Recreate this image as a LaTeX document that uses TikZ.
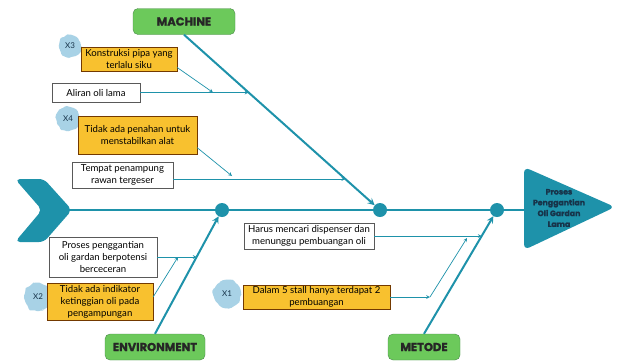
\documentclass[tikz,border=0pt]{standalone}
\usepackage{fontspec}
\setmainfont{Lato}
\newfontfamily\headfont{Poppins}[BoldFeatures={FakeBold=1.2}]
\usetikzlibrary{calc,decorations.pathmorphing}
\definecolor{fishteal}{HTML}{1E92AA}
\definecolor{bonegreen}{HTML}{6CC95B}
\definecolor{causegold}{HTML}{F8C12F}
\definecolor{tagblue}{HTML}{A8D2E6}
\definecolor{headtext}{HTML}{17344A}

\begin{document}
\begin{tikzpicture}[x=1pt,y=-1pt,>=stealth,font=\fontsize{9.6}{12}\selectfont,
    cat/.style={draw=green!35!black!70,fill=bonegreen,rounded corners=5pt,minimum height=26pt,font=\headfont\bfseries\fontsize{11.5}{13}\selectfont,text=black!85},
    wbox/.style={draw=black!65,fill=white,align=center,inner sep=1pt},
    ybox/.style={draw=black!55!orange,fill=causegold,align=center,inner sep=1pt},
    tag/.style={fill=tagblue,circle,minimum size=#1,inner sep=0pt,font=\fontsize{8}{9}\selectfont,text=headtext,decorate,decoration={random steps,segment length=3pt,amplitude=1.5pt},rounded corners=1.5pt},
    tag/.default=24pt,
    joint/.style={circle,fill=fishteal,minimum size=14pt,inner sep=0pt},
    bone/.style={fishteal,line width=2pt},
    twig/.style={fishteal,line width=0.7pt,->}]
    \path[use as bounding box,fill=white] (0,0) rectangle (620,360);
    \fill[fishteal,rounded corners=5pt] (15,179)--(44,179)--(72,210)--(44,242)--(15,242)--(42,210)--cycle;
    \fill[fishteal,rounded corners=6pt] (524,167)--(615,207)--(524,250)--cycle;
    \node[align=center,font=\headfont\bfseries\fontsize{7.8}{10.8}\selectfont,text=headtext] (head) at (559,208) {Proses\\Penggantian\\Oli Gardan\\Lama};
    \coordinate (tail) at (68,210);
    \coordinate (base) at (526,210);
    \node[joint] (j1) at (222,210) {};
    \node[joint] (j2) at (380,210) {};
    \node[joint] (j3) at (497,210) {};
    \draw[bone] (tail)--(j1)--(j2)--(j3)--(base);
    \node[cat,minimum width=102pt] (mach) at (184,21.5) {MACHINE};
    \node[cat,minimum width=100pt] (env) at (155,347) {ENVIRONMENT};
    \node[cat,minimum width=72pt] (met) at (424,347) {METODE};
    \draw[bone,->] (mach.south)--(j2);
    \draw[bone,->] (env.north)--(j1);
    \draw[bone,->] (met.north)--(j3);
    \node[tag=22pt] (x3) at (70,46) {X3};
    \node[tag=24pt] (x4) at (68,119) {X4};
    \node[tag=28pt] (x2) at (38,297) {X2};
    \node[tag=28pt] (x1) at (227,294) {X1};
    \node[ybox,minimum width=96pt,minimum height=24pt] (c3) at (129,59) {Konstruksi pipa yang\\terlalu siku};
    \node[wbox,minimum width=88pt,minimum height=19pt] (oil) at (96,92.5) {Aliran oli lama};
    \node[ybox,minimum width=119pt,minimum height=38pt] (c4) at (137.5,135) {Tidak ada penahan untuk\\menstabilkan alat};
    \node[wbox,minimum width=101pt,minimum height=26pt] (tank) at (122.5,175) {Tempat penampung\\rawan tergeser};
    \node[wbox,minimum width=108pt,minimum height=40pt] (spill) at (103,257) {Proses penggantian\\oli gardan berpotensi\\berceceran};
    \node[ybox,minimum width=106pt,minimum height=37pt] (c2) at (100,301.5) {Tidak ada indikator\\ketinggian oli pada\\pengampungan};
    \node[wbox,minimum width=130pt,minimum height=26pt] (wait) at (309,236) {Harus mencari dispenser dan\\menunggu pembuangan oli};
    \node[ybox,minimum width=147pt,minimum height=24pt] (c1) at (316.5,297) {Dalam 5 stall hanya terdapat 2\\pembuangan};
    \coordinate (m1) at ($(mach.south)!0.329!(j2)$);
    \coordinate (m2) at ($(mach.south)!0.823!(j2)$);
    \coordinate (e1) at ($(env.north)!0.621!(j1)$);
    \coordinate (d1) at ($(met.north)!0.79!(j3)$);
    \coordinate (tk) at ([yshift=-4pt]tank.east);
    \coordinate (t3) at (213,92.5);
    \coordinate (t4) at (232,176);
    \coordinate (t2) at (178,257);
    \coordinate (k1) at (430,297);
    \coordinate (t1) at (467,238);
    \draw[twig] (oil.east)--(oil.east -| m1);
    \draw[twig] (tk)--(tk -| m2);
    \draw[twig] (spill.east)--(spill.east -| e1);
    \draw[twig] (wait.east)--(wait.east -| d1);
    \draw[twig] (c3.-10)--(t3);
    \draw[twig] (c4.-12)--(t4);
    \draw[twig] (c2.5)--(t2);
    \draw[twig] (c1.east)--(k1);
    \draw[twig] (k1)--(t1);
\end{tikzpicture}
\end{document}
